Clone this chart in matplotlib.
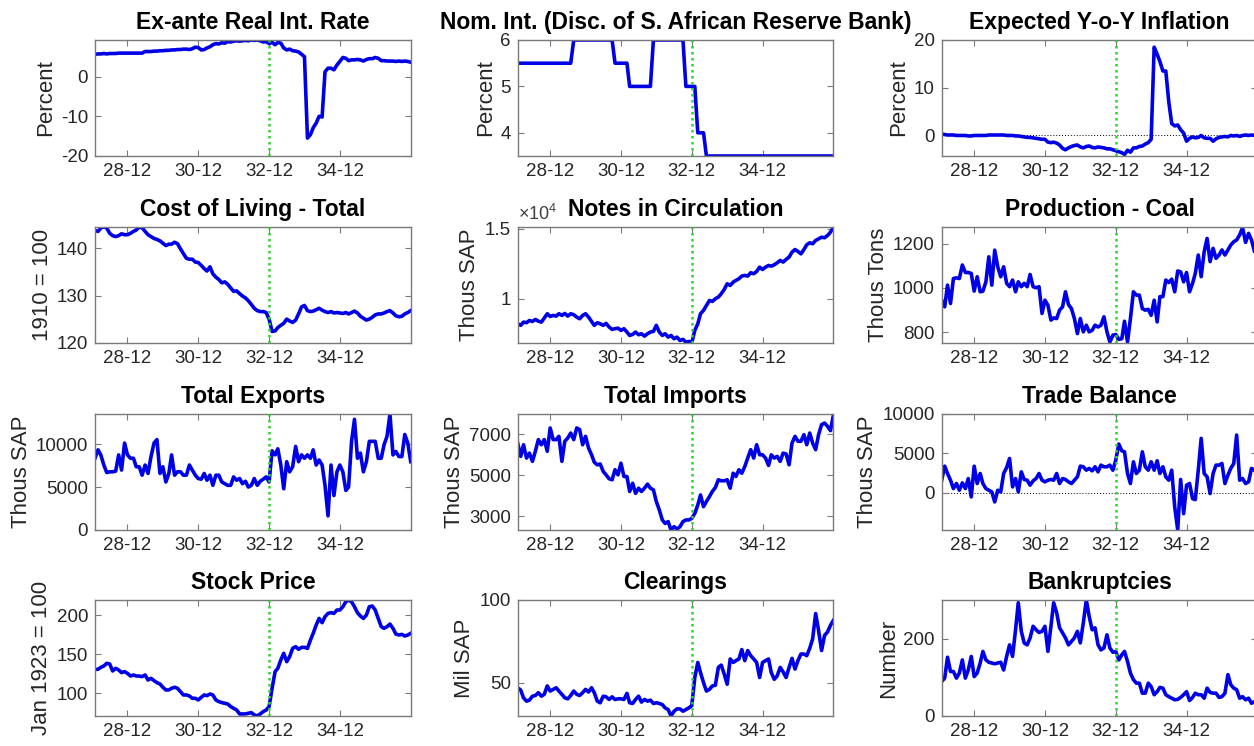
import pandas as pd
import matplotlib
matplotlib.use("Agg")
import matplotlib.pyplot as plt

plt.rcParams["font.family"] = ["Liberation Sans", "DejaVu Sans"]
plt.rcParams["mathtext.fontset"] = "custom"
plt.rcParams["mathtext.rm"] = "Liberation Sans"

# Monthly observations, Jan 1928 - Dec 1936
months = pd.date_range("1928-01-01", periods=108, freq="MS")
tick_dates = pd.to_datetime(["1928-12-01", "1930-12-01", "1932-12-01", "1934-12-01"])
tick_labels = ["28-12", "30-12", "32-12", "34-12"]
gold_exit = pd.Timestamp("1932-12-01")

real_rate = [
    5.6, 5.7, 5.7, 5.8, 5.7, 5.8, 5.8, 5.8, 5.9, 5.9,
    5.9, 5.9, 5.9, 5.9, 5.9, 5.9, 5.9, 6.3, 6.3, 6.3,
    6.4, 6.4, 6.5, 6.5, 6.6, 6.6, 6.7, 6.7, 6.8, 6.8,
    6.9, 6.9, 6.8, 7.0, 7.4, 7.3, 6.7, 6.8, 7.2, 7.5,
    8.0, 8.3, 8.2, 8.5, 8.4, 8.8, 8.7, 8.9, 9.0, 8.9,
    9.0, 9.1, 9.0, 9.2, 9.1, 9.2, 9.0, 8.7, 8.8, 8.3,
    8.6, 8.0, 8.6, 8.4, 7.2, 6.7, 6.9, 6.5, 6.4, 6.2,
    5.6, 5.0, -15.5, -14.6, -12.9, -11.7, -10.0, -10.2, 1.2, 2.1,
    2.1, 1.7, 2.9, 3.8, 4.8, 4.6, 4.0, 4.2, 4.2, 4.3,
    4.2, 3.9, 4.3, 4.5, 4.5, 4.8, 4.6, 4.0, 4.0, 3.9,
    3.9, 3.9, 3.8, 3.9, 3.8, 3.9, 3.8, 3.6,
]

discount_rate = [
    5.5, 5.5, 5.5, 5.5, 5.5, 5.5, 5.5, 5.5, 5.5, 5.5,
    5.5, 5.5, 5.5, 5.5, 5.5, 5.5, 5.5, 5.5, 5.5, 6.0,
    6.0, 6.0, 6.0, 6.0, 6.0, 6.0, 6.0, 6.0, 6.0, 6.0,
    6.0, 6.0, 6.0, 5.5, 5.5, 5.5, 5.5, 5.5, 5.0, 5.0,
    5.0, 5.0, 5.0, 5.0, 5.0, 5.0, 6.0, 6.0, 6.0, 6.0,
    6.0, 6.0, 6.0, 6.0, 6.0, 6.0, 6.0, 5.0, 5.0, 5.0,
    5.0, 4.0, 4.0, 4.0, 3.5, 3.5, 3.5, 3.5, 3.5, 3.5,
    3.5, 3.5, 3.5, 3.5, 3.5, 3.5, 3.5, 3.5, 3.5, 3.5,
    3.5, 3.5, 3.5, 3.5, 3.5, 3.5, 3.5, 3.5, 3.5, 3.5,
    3.5, 3.5, 3.5, 3.5, 3.5, 3.5, 3.5, 3.5, 3.5, 3.5,
    3.5, 3.5, 3.5, 3.5, 3.5, 3.5, 3.5, 3.5,
]

expected_inflation = [
    0.3, 0.2, 0.1, 0.1, 0.1, 0.0, 0.0, 0.0, 0.0, -0.1,
    -0.1, 0.0, 0.0, 0.0, 0.0, 0.0, 0.1, 0.1, 0.1, 0.1,
    0.1, 0.1, 0.0, 0.0, 0.0, -0.1, -0.1, -0.2, -0.3, -0.4,
    -0.4, -0.5, -0.6, -0.7, -0.8, -0.8, -1.4, -1.5, -1.4, -1.6,
    -2.0, -2.7, -3.0, -2.6, -2.3, -2.1, -2.0, -2.4, -2.6, -2.3,
    -2.2, -2.5, -2.6, -2.4, -2.5, -2.6, -2.8, -2.8, -3.0, -3.2,
    -3.4, -3.6, -4.0, -3.1, -3.5, -2.6, -2.6, -2.3, -2.2, -1.8,
    -1.5, -0.8, 18.5, 17.0, 15.5, 13.5, 13.5, 7.0, 2.5, 2.0,
    2.2, 1.2, 0.5, -1.2, -0.6, -0.3, -0.5, -0.4, 0.0, -0.5,
    -0.6, -0.6, -1.2, -0.7, -0.4, -0.3, -0.2, -0.3, 0.0, -0.1,
    0.0, -0.2, 0.0, 0.1, 0.0, 0.1, 0.0, 0.1,
]

cost_of_living = [
    143.8, 143.6, 144.3, 144.6, 144.3, 143.2, 142.7, 142.5, 142.7, 143.1,
    142.9, 142.9, 143.2, 143.6, 143.9, 144.5, 144.4, 143.6, 142.9, 142.5,
    142.1, 141.9, 141.6, 141.1, 140.6, 140.9, 140.9, 141.3, 141.0, 139.9,
    138.9, 137.9, 137.7, 137.7, 137.1, 137.0, 136.4, 135.7, 135.2, 136.1,
    134.6, 133.9, 133.4, 132.7, 132.9, 132.4, 131.6, 130.9, 131.0, 130.4,
    129.9, 129.5, 128.9, 128.1, 127.3, 126.8, 126.6, 126.6, 126.4, 125.0,
    122.4, 122.5, 123.2, 123.7, 124.1, 125.0, 124.6, 124.3, 124.8, 126.1,
    127.6, 127.9, 126.8, 126.6, 126.7, 127.0, 127.3, 126.9, 126.6, 126.4,
    126.6, 126.3, 126.4, 126.3, 126.2, 126.4, 126.1, 126.4, 126.7, 126.3,
    125.6, 125.2, 124.8, 125.0, 125.4, 125.9, 126.1, 126.1, 126.3, 126.6,
    126.8, 126.3, 125.7, 125.5, 125.6, 126.1, 126.4, 126.8,
]

notes = [
    8210, 8100, 8330, 8290, 8450, 8380, 8520, 8400, 8330, 8620,
    8930, 8740, 8810, 8760, 8930, 8810, 8950, 8760, 8930, 8860,
    8690, 8570, 8810, 8930, 8690, 8380, 8100, 8290, 8210, 8100,
    8240, 7980, 7810, 7860, 7900, 7740, 7860, 7620, 7380, 7450,
    7620, 7430, 7500, 7330, 7500, 7620, 7670, 8100, 7620, 7380,
    7500, 7260, 7380, 7140, 7260, 7020, 7100, 6900, 6950, 6860,
    7740, 8210, 8930, 9170, 9520, 9880, 9810, 10000, 10120, 10360,
    10670, 11070, 10950, 11190, 11310, 11430, 11620, 11670, 11620, 11860,
    11790, 11950, 12260, 12090, 12260, 12380, 12330, 12430, 12570, 12740,
    12620, 12810, 12980, 13330, 13520, 13380, 13210, 13520, 13860, 14000,
    13930, 14170, 14280, 14400, 14360, 14520, 14760, 15120,
]

coal = [
    944, 914, 1012, 929, 1042, 1045, 1042, 1103, 1069, 1069,
    1065, 985, 1050, 982, 985, 1027, 1140, 1012, 1170, 1095,
    1050, 1095, 1020, 1005, 1035, 982, 1027, 1005, 1020, 1005,
    1060, 1005, 1000, 1005, 884, 944, 921, 854, 864, 861,
    899, 914, 982, 924, 906, 861, 793, 861, 801, 831,
    801, 808, 831, 823, 831, 869, 801, 755, 786, 789,
    767, 770, 849, 755, 861, 982, 967, 967, 906, 899,
    903, 876, 944, 846, 960, 960, 1035, 1024, 1039, 982,
    1076, 1072, 1027, 1069, 982, 1020, 1065, 1148, 1050, 1163,
    1223, 1118, 1178, 1133, 1148, 1171, 1148, 1171, 1193, 1208,
    1216, 1239, 1272, 1205, 1246, 1216, 1163, 1190,
]

exports = [
    8350, 9330, 8740, 7560, 6690, 6770, 6770, 6850, 8740, 6970,
    10120, 8740, 8350, 8350, 7360, 7360, 6380, 7560, 6580, 8550,
    10120, 10520, 6580, 7360, 5590, 6580, 8740, 6380, 6770, 6770,
    6380, 6380, 7560, 6970, 6380, 5990, 5910, 6580, 5790, 6380,
    5200, 6380, 6380, 5590, 5390, 5200, 5200, 6180, 5790, 5990,
    5390, 5670, 5000, 5200, 5990, 5200, 5670, 5910, 6180, 5590,
    9220, 8740, 9450, 7560, 4800, 7950, 6770, 7360, 9730, 7950,
    8740, 8350, 8740, 8350, 9330, 7560, 8150, 7560, 5200, 1650,
    7560, 4010, 6770, 7560, 6770, 4610, 5000, 10320, 12880, 8350,
    8940, 6770, 7950, 10320, 10320, 10320, 8350, 8350, 9920, 10910,
    13500, 8740, 9140, 8550, 8550, 11110, 10120, 7950,
]

imports = [
    6580, 5930, 6500, 5850, 6090, 5690, 6180, 6750, 6500, 6750,
    6180, 7320, 6750, 6750, 6910, 5690, 6670, 6830, 7070, 6750,
    7320, 7240, 6500, 6910, 6340, 6010, 5650, 5520, 5560, 5200,
    5030, 4840, 4790, 5280, 5030, 5600, 4950, 4950, 4220, 4620,
    4130, 4380, 4220, 4380, 4580, 4380, 4300, 3730, 3320, 2830,
    2660, 2750, 2340, 2500, 2390, 2500, 2750, 2830, 2830, 2910,
    3150, 3560, 4050, 3480, 3730, 3970, 4220, 4410, 4790, 4740,
    4740, 4790, 4380, 5110, 4950, 5280, 5110, 5440, 5850, 6260,
    5850, 6500, 6010, 6010, 5850, 5490, 6010, 5850, 5930, 5690,
    6090, 6050, 5520, 6580, 6910, 6670, 6670, 6990, 6500, 7070,
    6580, 6260, 6990, 7480, 7560, 7400, 7190, 7950,
]

trade_balance = [
    1610, 3390, 2460, 1610, 550, 1190, 340, 1270, 550, 1820,
    -510, 3390, 1190, 2460, 1190, 550, 340, 130, -1140, 340,
    130, 2460, 3220, 4370, 760, 1820, 130, 2670, 1700, 1610,
    975, 1530, 1820, 2460, 1610, 1400, 1610, 1700, 1610, 2460,
    1190, 1820, 1700, 1400, 1190, 1610, 2040, 3390, 3310, 2880,
    3100, 2800, 3310, 2670, 3520, 3310, 3310, 3520, 2880, 4160,
    6190, 5340, 5210, 2460, 1190, 3940, 2460, 2880, 5210, 3310,
    2880, 3940, 2880, 4070, 2460, 3310, 2040, 1610, 2880, -1780,
    -4700, 1700, -2630, 975, 1190, -720, -850, 2880, 6910, 2460,
    2040, -85, 2460, 3520, 3520, 3730, 1190, 2250, 3100, 3730,
    7330, 1610, 1820, 1190, 1400, 3100, 2880, 2460,
]

stock_price = [
    130.6, 130.6, 133.2, 134.9, 138.3, 137.4, 128.5, 131.9, 129.8, 126.4,
    127.7, 125.5, 122.1, 123.4, 122.1, 122.1, 121.3, 123.4, 117.0, 119.1,
    116.2, 113.6, 111.9, 107.7, 104.3, 104.3, 106.4, 107.7, 106.4, 102.1,
    97.9, 97.9, 96.6, 93.6, 93.6, 91.5, 94.9, 97.9, 97.0, 99.1,
    97.9, 91.5, 89.4, 88.1, 87.2, 86.4, 83.0, 80.9, 78.7, 73.6,
    73.6, 73.6, 74.5, 75.3, 72.3, 71.1, 73.6, 76.6, 78.7, 83.0,
    106.4, 127.7, 131.9, 142.6, 151.1, 140.4, 146.8, 157.4, 159.6, 156.2,
    158.7, 158.7, 157.4, 168.1, 176.6, 187.2, 195.7, 190.2, 197.9, 202.1,
    203.0, 202.1, 206.4, 206.4, 210.6, 217.0, 219.1, 217.0, 210.6, 203.0,
    198.7, 195.7, 200.0, 210.6, 211.5, 206.4, 195.7, 185.1, 183.0, 185.1,
    188.5, 183.0, 175.7, 174.5, 175.3, 173.2, 174.5, 176.6,
]

clearings = [
    46.9, 45.5, 40.8, 38.8, 39.4, 41.8, 42.2, 43.9, 41.8, 42.9,
    48.0, 44.9, 45.9, 46.9, 44.9, 42.9, 40.8, 40.2, 42.2, 44.9,
    42.9, 42.2, 43.9, 45.9, 44.3, 46.9, 43.9, 38.8, 37.8, 41.8,
    41.4, 39.8, 41.4, 39.8, 40.2, 40.2, 39.8, 43.5, 37.8, 37.4,
    39.8, 41.8, 38.2, 39.8, 38.8, 39.4, 37.4, 37.8, 37.4, 36.7,
    34.7, 33.7, 29.8, 32.7, 34.1, 34.1, 32.7, 33.7, 34.7, 36.1,
    53.1, 62.2, 56.1, 50.0, 44.9, 45.9, 48.0, 48.4, 59.2, 60.6,
    55.1, 49.0, 64.3, 62.2, 63.3, 64.3, 70.0, 63.3, 69.4, 66.3,
    64.3, 62.2, 53.1, 62.2, 63.3, 64.3, 56.1, 52.0, 54.1, 59.2,
    56.5, 53.1, 59.2, 64.7, 58.2, 63.3, 67.3, 67.3, 66.3, 70.8,
    76.5, 91.8, 81.6, 69.4, 78.6, 80.6, 84.7, 87.7,
]

bankruptcies = [
    89, 98, 152, 115, 115, 98, 111, 145, 98, 119,
    154, 102, 111, 137, 167, 145, 139, 137, 135, 137,
    139, 119, 154, 184, 154, 223, 293, 219, 189, 184,
    202, 232, 223, 216, 219, 232, 167, 232, 293, 267,
    228, 215, 202, 184, 193, 202, 219, 189, 241, 300,
    258, 223, 228, 184, 171, 176, 210, 176, 165, 167,
    145, 158, 167, 141, 111, 94, 85, 85, 59, 59,
    85, 76, 55, 63, 74, 72, 55, 50, 46, 42,
    43, 48, 55, 63, 40, 48, 59, 55, 55, 46,
    72, 61, 59, 59, 48, 50, 59, 107, 81, 72,
    68, 46, 50, 42, 46, 33, 37, 42,
]

titles = [
    "Ex-ante Real Int. Rate", "Nom. Int. (Disc. of S. African Reserve Bank)",
    "Expected Y-o-Y Inflation", "Cost of Living - Total", "Notes in Circulation",
    "Production - Coal", "Total Exports", "Total Imports", "Trade Balance",
    "Stock Price", "Clearings", "Bankruptcies",
]
ylabels = [
    "Percent", "Percent", "Percent", "1910 = 100", "Thous SAP", "Thous Tons",
    "Thous SAP", "Thous SAP", "Thous SAP", "Jan 1923 = 100", "Mil SAP", "Number",
]
series = [
    real_rate, discount_rate, expected_inflation, cost_of_living, notes, coal,
    exports, imports, trade_balance, stock_price, clearings, bankruptcies,
]
ylims = [
    (-20, 9.2), (3.5, 6.0), (-4.3, 20), (120, 144.6), (6860, 15150), (752, 1276),
    (0, 13500), (2340, 8000), (-4700, 10000), (71, 219.2), (29.8, 100), (0, 300),
]
yticks = [
    [-20, -10, 0], [4, 5, 6], [0, 10, 20], [120, 130, 140], [10000, 15000],
    [800, 1000, 1200], [0, 5000, 10000], [3000, 5000, 7000], [0, 5000, 10000],
    [100, 150, 200], [50, 100], [0, 200],
]
ytick_labels = [
    ["-20", "-10", "0"], ["4", "5", "6"], ["0", "10", "20"], ["120", "130", "140"],
    ["1", "1.5"], ["800", "1000", "1200"], ["0", "5000", "10000"],
    ["3000", "5000", "7000"], ["0", "5000", "10000"], ["100", "150", "200"],
    ["50", "100"], ["0", "200"],
]
zero_line = [False, False, True, False, False, False, False, False, True, False, False, False]

W, H = 1254, 746
fig = plt.figure(figsize=(W / 100, H / 100), dpi=100)

col_left = [95, 517.7, 941.7]
row_top = [40, 226.7, 414, 600]
ax_w, ax_h = 315.7, 116

line_blue = "#0000e6"
spine_grey = "#7a7a7a"
text_grey = "#262626"

for i in range(12):
    r, c = divmod(i, 3)
    left = col_left[c] / W
    bottom = 1 - (row_top[r] + ax_h) / H
    ax = fig.add_axes([left, bottom, ax_w / W, ax_h / H])

    if zero_line[i]:
        ax.axhline(0, color="black", lw=0.7, ls=(0, (1, 2)), zorder=1)
    ax.plot(months, series[i], color=line_blue, lw=2.6, zorder=2)
    ax.axvline(gold_exit, color="#2fd42f", lw=1.8, ls=(0, (1, 1.4)), zorder=3)

    ax.set_xlim(months[0], months[-1])
    ax.set_ylim(*ylims[i])
    ax.set_xticks(tick_dates, tick_labels)
    ax.set_yticks(yticks[i], ytick_labels[i])
    ax.tick_params(direction="in", top=True, right=True, length=4, width=0.8,
                   color=spine_grey, labelsize=13.5, labelcolor=text_grey, pad=5)
    for s in ax.spines.values():
        s.set_color(spine_grey)
        s.set_linewidth(1.0)

    ax.set_title(titles[i], fontsize=16.5, fontweight="bold", color="black", pad=8)
    ax.set_ylabel(ylabels[i], fontsize=16, color=text_grey, labelpad=3)

    if titles[i] == "Notes in Circulation":
        ax.text(0.0, 1.02, "\u00d710$^{4}$", transform=ax.transAxes, ha="left",
                va="bottom", fontsize=13, color="#404040")

fig.savefig("out.png", dpi=100)
